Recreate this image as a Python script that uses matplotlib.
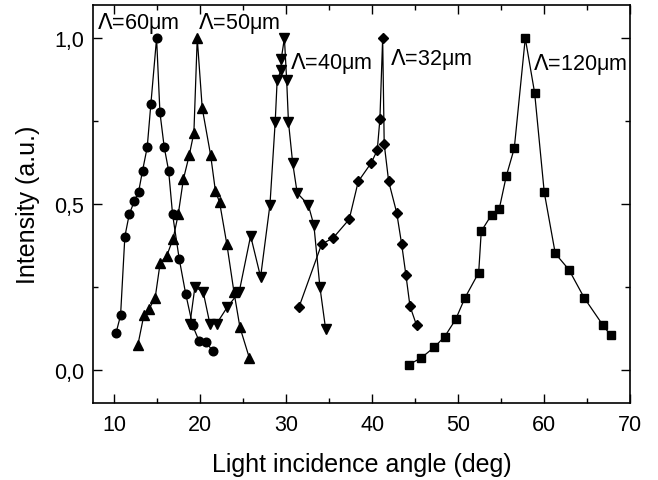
import matplotlib
matplotlib.use("Agg")
import matplotlib.pyplot as plt
from matplotlib.ticker import MultipleLocator

plt.rcParams['font.family'] = ['Liberation Sans', 'DejaVu Sans']
plt.rcParams['mathtext.fontset'] = 'custom'
plt.rcParams['mathtext.it'] = 'Liberation Serif:italic'

# Λ = 60 µm (circles)
x60 = [10.20, 10.74, 11.24, 11.75, 12.33, 12.84, 13.30, 13.84, 14.27, 14.93,
       15.32, 15.82, 16.33, 16.79, 17.56, 18.31, 19.12, 19.89, 20.67, 21.48]
y60 = [0.110, 0.164, 0.402, 0.469, 0.508, 0.537, 0.601, 0.671, 0.803, 1.000,
       0.776, 0.671, 0.601, 0.469, 0.335, 0.230, 0.134, 0.086, 0.084, 0.056]

# Λ = 50 µm (up triangles)
x50 = [12.76, 13.46, 14.07, 14.77, 15.35, 16.10, 16.86, 17.45, 18.05, 18.73,
       19.27, 19.66, 20.24, 21.22, 21.77, 22.26, 23.11, 23.93, 24.63, 25.71]
y50 = [0.076, 0.166, 0.184, 0.218, 0.323, 0.343, 0.396, 0.469, 0.575, 0.647,
       0.715, 1.000, 0.789, 0.647, 0.540, 0.505, 0.378, 0.235, 0.128, 0.037]

# Λ = 40 µm (down triangles)
x40 = [18.81, 19.39, 20.35, 21.13, 21.91, 23.15, 24.54, 25.87, 27.03, 28.12,
       28.73, 28.96, 29.43, 29.43, 29.80, 30.06, 30.27, 30.76, 31.29, 32.57,
       33.23, 33.93, 34.60]
y40 = [0.139, 0.250, 0.235, 0.139, 0.139, 0.189, 0.235, 0.404, 0.280, 0.498,
       0.748, 0.875, 0.904, 0.937, 1.000, 0.875, 0.748, 0.624, 0.533, 0.498,
       0.436, 0.250, 0.122]

# Λ = 32 µm (diamonds)
x32 = [31.52, 34.13, 35.48, 37.34, 38.39, 39.90, 40.60, 40.91, 41.23, 41.41,
       41.93, 42.86, 43.44, 43.94, 44.41, 45.18]
y32 = [0.191, 0.379, 0.398, 0.454, 0.568, 0.624, 0.662, 0.756, 1.000, 0.681,
       0.568, 0.474, 0.379, 0.285, 0.192, 0.134]

# Λ = 120 µm (squares)
x120 = [44.29, 45.71, 47.22, 48.44, 49.72, 50.80, 52.40, 52.70, 53.91, 54.79,
        55.61, 56.54, 57.82, 58.91, 60.03, 61.31, 62.90, 64.68, 66.82, 67.76]
y120 = [0.016, 0.036, 0.068, 0.100, 0.152, 0.217, 0.293, 0.418, 0.468, 0.485,
        0.584, 0.668, 1.000, 0.835, 0.535, 0.351, 0.302, 0.217, 0.136, 0.104]

xticks = [10, 20, 30, 40, 50, 60, 70]
yticks = [0.0, 0.5, 1.0]
ytick_labels = ['0,0', '0,5', '1,0']

fig = plt.figure(figsize=(6.58, 4.81), dpi=100)
ax = fig.add_axes([0.1409, 0.160, 0.8165, 0.8275])

lw = 0.9
ax.plot(x60, y60, '-o', color='black', lw=lw, ms=6.2)
ax.plot(x50, y50, '-^', color='black', lw=lw, ms=7.5)
ax.plot(x40, y40, '-v', color='black', lw=lw, ms=7.5)
ax.plot(x32, y32, '-D', color='black', lw=lw, ms=5.6)
ax.plot(x120, y120, '-s', color='black', lw=lw, ms=6.0)

ax.set_xlim(7.5, 70)
ax.set_ylim(-0.1, 1.1)
ax.set_xticks(xticks)
ax.set_yticks(yticks)
ax.set_yticklabels(ytick_labels)
ax.xaxis.set_minor_locator(MultipleLocator(5))
ax.yaxis.set_minor_locator(MultipleLocator(0.25))
ax.tick_params(which='both', direction='in', top=True, right=True,
               labelsize=15.5, width=1.0)
ax.tick_params(axis='x', pad=8)
ax.tick_params(axis='y', pad=6)
ax.tick_params(which='major', length=6.5)
ax.tick_params(which='minor', length=3.3)
for s in ax.spines.values():
    s.set_linewidth(1.2)

ax.set_xlabel('Light incidence angle (deg)', fontsize=18, labelpad=12)
ax.set_ylabel('Intensity (a.u.)', fontsize=18, labelpad=10)

lab_fs = 15.5
L = r'$\mathit{\Lambda}$'
ax.text(8.0, 1.047, L + '=60μm', fontsize=lab_fs, va='center', ha='left')
ax.text(19.73, 1.047, L + '=50μm', fontsize=lab_fs, va='center', ha='left')
ax.text(30.44, 0.926, L + '=40μm', fontsize=lab_fs, va='center', ha='left')
ax.text(42.05, 0.938, L + '=32μm', fontsize=lab_fs, va='center', ha='left')
ax.text(58.75, 0.924, L + '=120μm', fontsize=lab_fs, va='center', ha='left')

fig.savefig('out.png', dpi=100)
